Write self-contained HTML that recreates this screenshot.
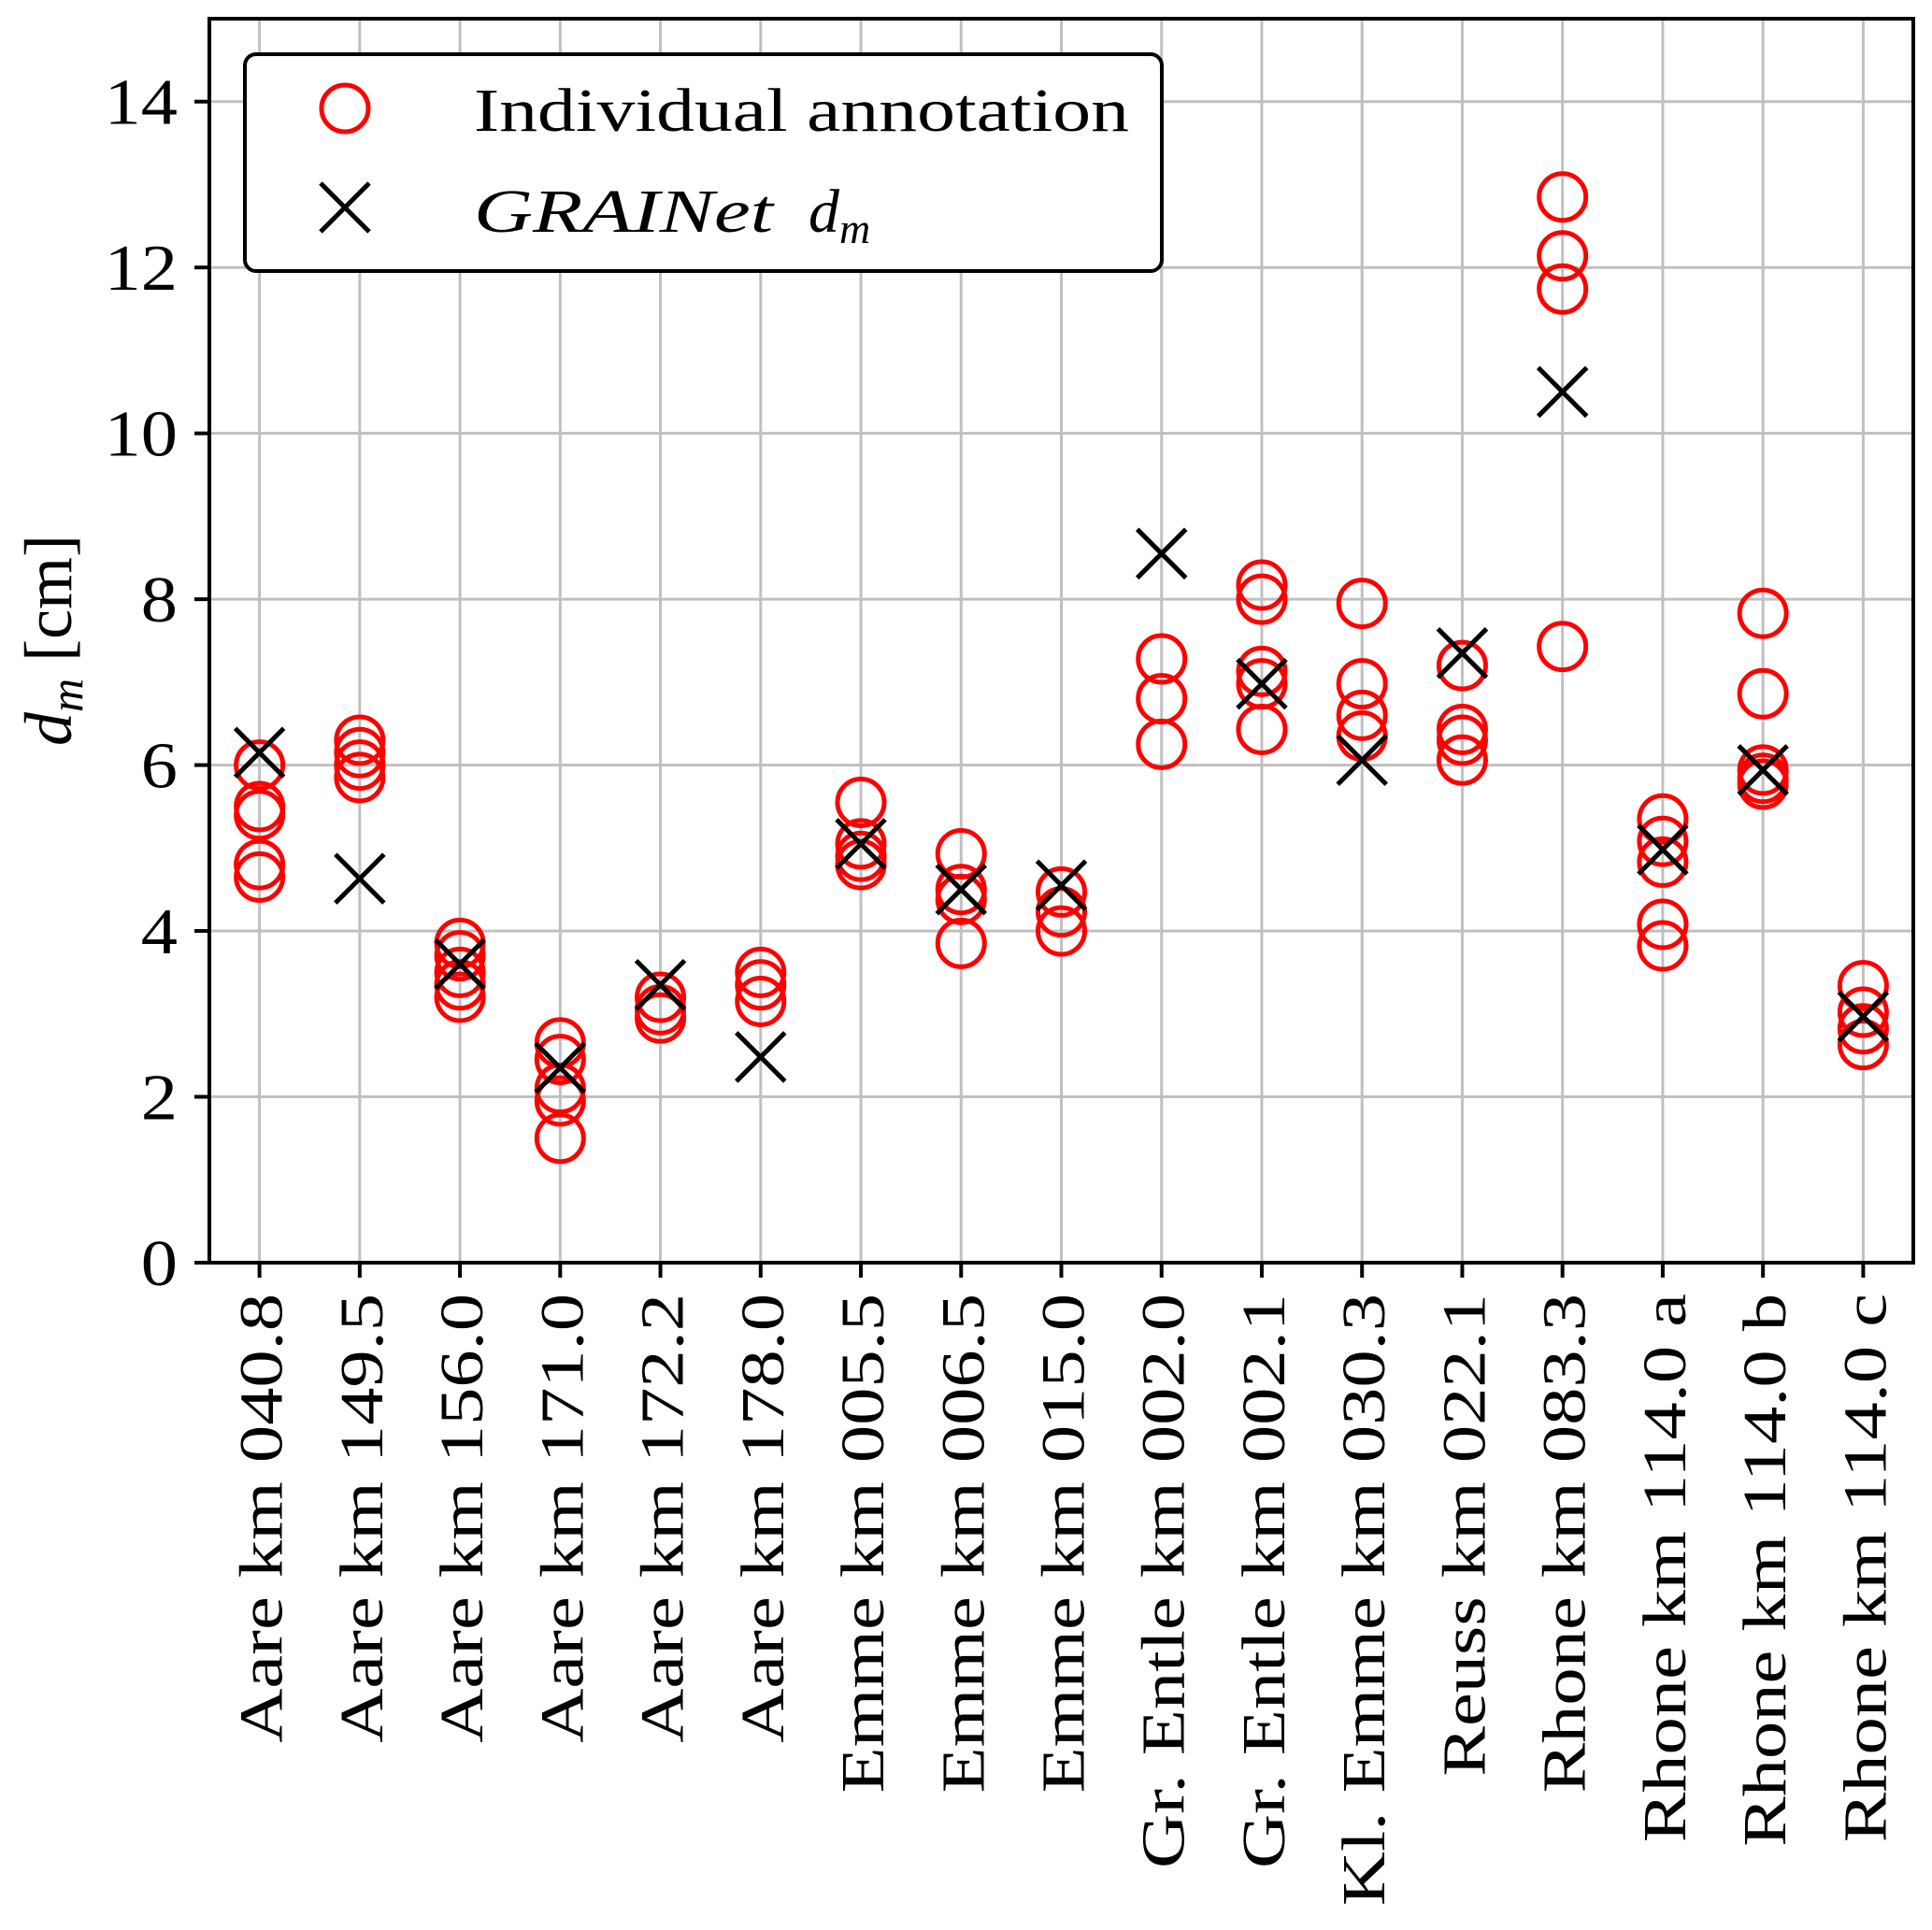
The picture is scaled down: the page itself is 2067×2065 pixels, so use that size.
<!DOCTYPE html>
<html><head><meta charset="utf-8"><style>
html,body{margin:0;padding:0;background:#fff}
svg{display:block}
text{font-family:"Liberation Serif",serif;fill:#000}
</style></head><body>
<svg id="chart" width="2067" height="2065" viewBox="0 0 2067 2065" xmlns="http://www.w3.org/2000/svg">
<g id="grid"></g>
<g id="marks"></g>
<g id="axes"></g>
<g id="legend">
<rect x="262" y="58" width="981" height="232" rx="12" fill="#fff" stroke="#000" stroke-width="4"/>
<circle cx="369" cy="116" r="25" fill="none" stroke="#ff0000" stroke-width="5"/>
<text id="leg1" x="507" y="140" font-size="66" textLength="701" lengthAdjust="spacingAndGlyphs">Individual annotation</text>
<path d="M343 196 L395 248 M395 196 L343 248" stroke="#000" stroke-width="5"/>
<text x="507" y="248" font-size="66" font-style="italic"><tspan textLength="320" lengthAdjust="spacingAndGlyphs">GRAINet</tspan><tspan x="865">d</tspan><tspan font-size="46" dy="12">m</tspan></text>
</g>
<text transform="translate(76,685) rotate(-90)" text-anchor="middle" font-size="72"><tspan font-style="italic">d</tspan><tspan font-style="italic" font-size="50" dy="12">m</tspan><tspan dy="-12"> [cm]</tspan></text>
</svg>
<script>
const categories = ["Aare km 040.8","Aare km 149.5","Aare km 156.0","Aare km 171.0","Aare km 172.2","Aare km 178.0","Emme km 005.5","Emme km 006.5","Emme km 015.0","Gr. Entle km 002.0","Gr. Entle km 002.1","Kl. Emme km 030.3","Reuss km 022.1","Rhone km 083.3","Rhone km 114.0 a","Rhone km 114.0 b","Rhone km 114.0 c"];
const annotations = [
 [6.0,5.5,5.4,4.8,4.65],
 [6.3,6.15,6.0,5.85],
 [3.85,3.7,3.5,3.35,3.2],
 [2.65,2.45,2.1,1.95,1.5],
 [3.2,3.05,2.95],
 [3.5,3.35,3.15],
 [5.55,5.05,4.9,4.8],
 [4.93,4.5,4.38,3.85],
 [4.47,4.23,4.0],
 [7.28,6.8,6.25],
 [8.17,8.0,7.13,6.98,6.43],
 [7.95,6.98,6.6,6.35],
 [7.2,6.43,6.3,6.06],
 [12.85,12.14,11.74,7.43],
 [5.35,5.08,4.83,4.08,3.82],
 [7.83,6.86,5.94,5.84,5.77],
 [3.34,3.02,2.82,2.63]
];
const grainet = [6.15,4.63,3.6,2.35,3.35,2.48,5.05,4.5,4.55,8.55,6.98,6.06,7.35,10.5,4.98,5.94,2.97];
const yTicks = [0,2,4,6,8,10,12,14];

const L=224,R=2047,T=20,B=1351,YMAX=15;
const xs = i => L + (i+0.5)*(R-L)/categories.length;
const ys = v => B - v*(B-T)/YMAX;
const NS="http://www.w3.org/2000/svg";
function mk(tag, attrs, parent){const e=document.createElementNS(NS,tag);for(const k in attrs)e.setAttribute(k,attrs[k]);parent.appendChild(e);return e;}
const grid=document.getElementById('grid'),marks=document.getElementById('marks'),axes=document.getElementById('axes');
categories.forEach((c,i)=>{
  const g=mk('line',{x1:xs(i),x2:xs(i),y1:T,y2:B,stroke:'#c0c0c0','stroke-width':3},grid);
  
  
  const t=mk('line',{x1:xs(i),x2:xs(i),y1:B,y2:B+16,stroke:'#000','stroke-width':4},axes);
  
  
  const lb=mk('text',{transform:`translate(${xs(i)+24},1384) rotate(-90)`,'text-anchor':'end','font-size':66},axes);
  lb.textContent=c;
  
  
  const len=lb.getComputedTextLength();
  lb.setAttribute('textLength',len*1.22);
  lb.setAttribute('lengthAdjust','spacingAndGlyphs');
});
yTicks.forEach(v=>{
  const g=mk('line',{x1:L,x2:R,y1:ys(v),y2:ys(v),stroke:'#c0c0c0','stroke-width':3},grid);
  
  
  const t=mk('line',{x1:L-16,x2:L,y1:ys(v),y2:ys(v),stroke:'#000','stroke-width':4},axes);
  
  
  const lb=mk('text',{x:190,y:ys(v)+24,'text-anchor':'end','font-size':70},axes);
  lb.textContent=v;
  
  
  const len=lb.getComputedTextLength();
  lb.setAttribute('textLength',len*1.12);
  lb.setAttribute('lengthAdjust','spacingAndGlyphs');
});
const frame=mk('rect',{x:L,y:T,width:R-L,height:B-T,fill:'none',stroke:'#000','stroke-width':4},axes);


annotations.forEach((arr,i)=>arr.forEach(v=>{
  const c=mk('circle',{cx:xs(i),cy:ys(v),r:25,fill:'none',stroke:'#ff0000','stroke-width':5},marks);
  
  
}));
grainet.forEach((v,i)=>{
  const x=xs(i),y=ys(v),h=26;
  const p=mk('path',{d:`M${x-h} ${y-h} L${x+h} ${y+h} M${x+h} ${y-h} L${x-h} ${y+h}`,stroke:'#000','stroke-width':5},marks);
  
  
});
</script>
</body></html>
